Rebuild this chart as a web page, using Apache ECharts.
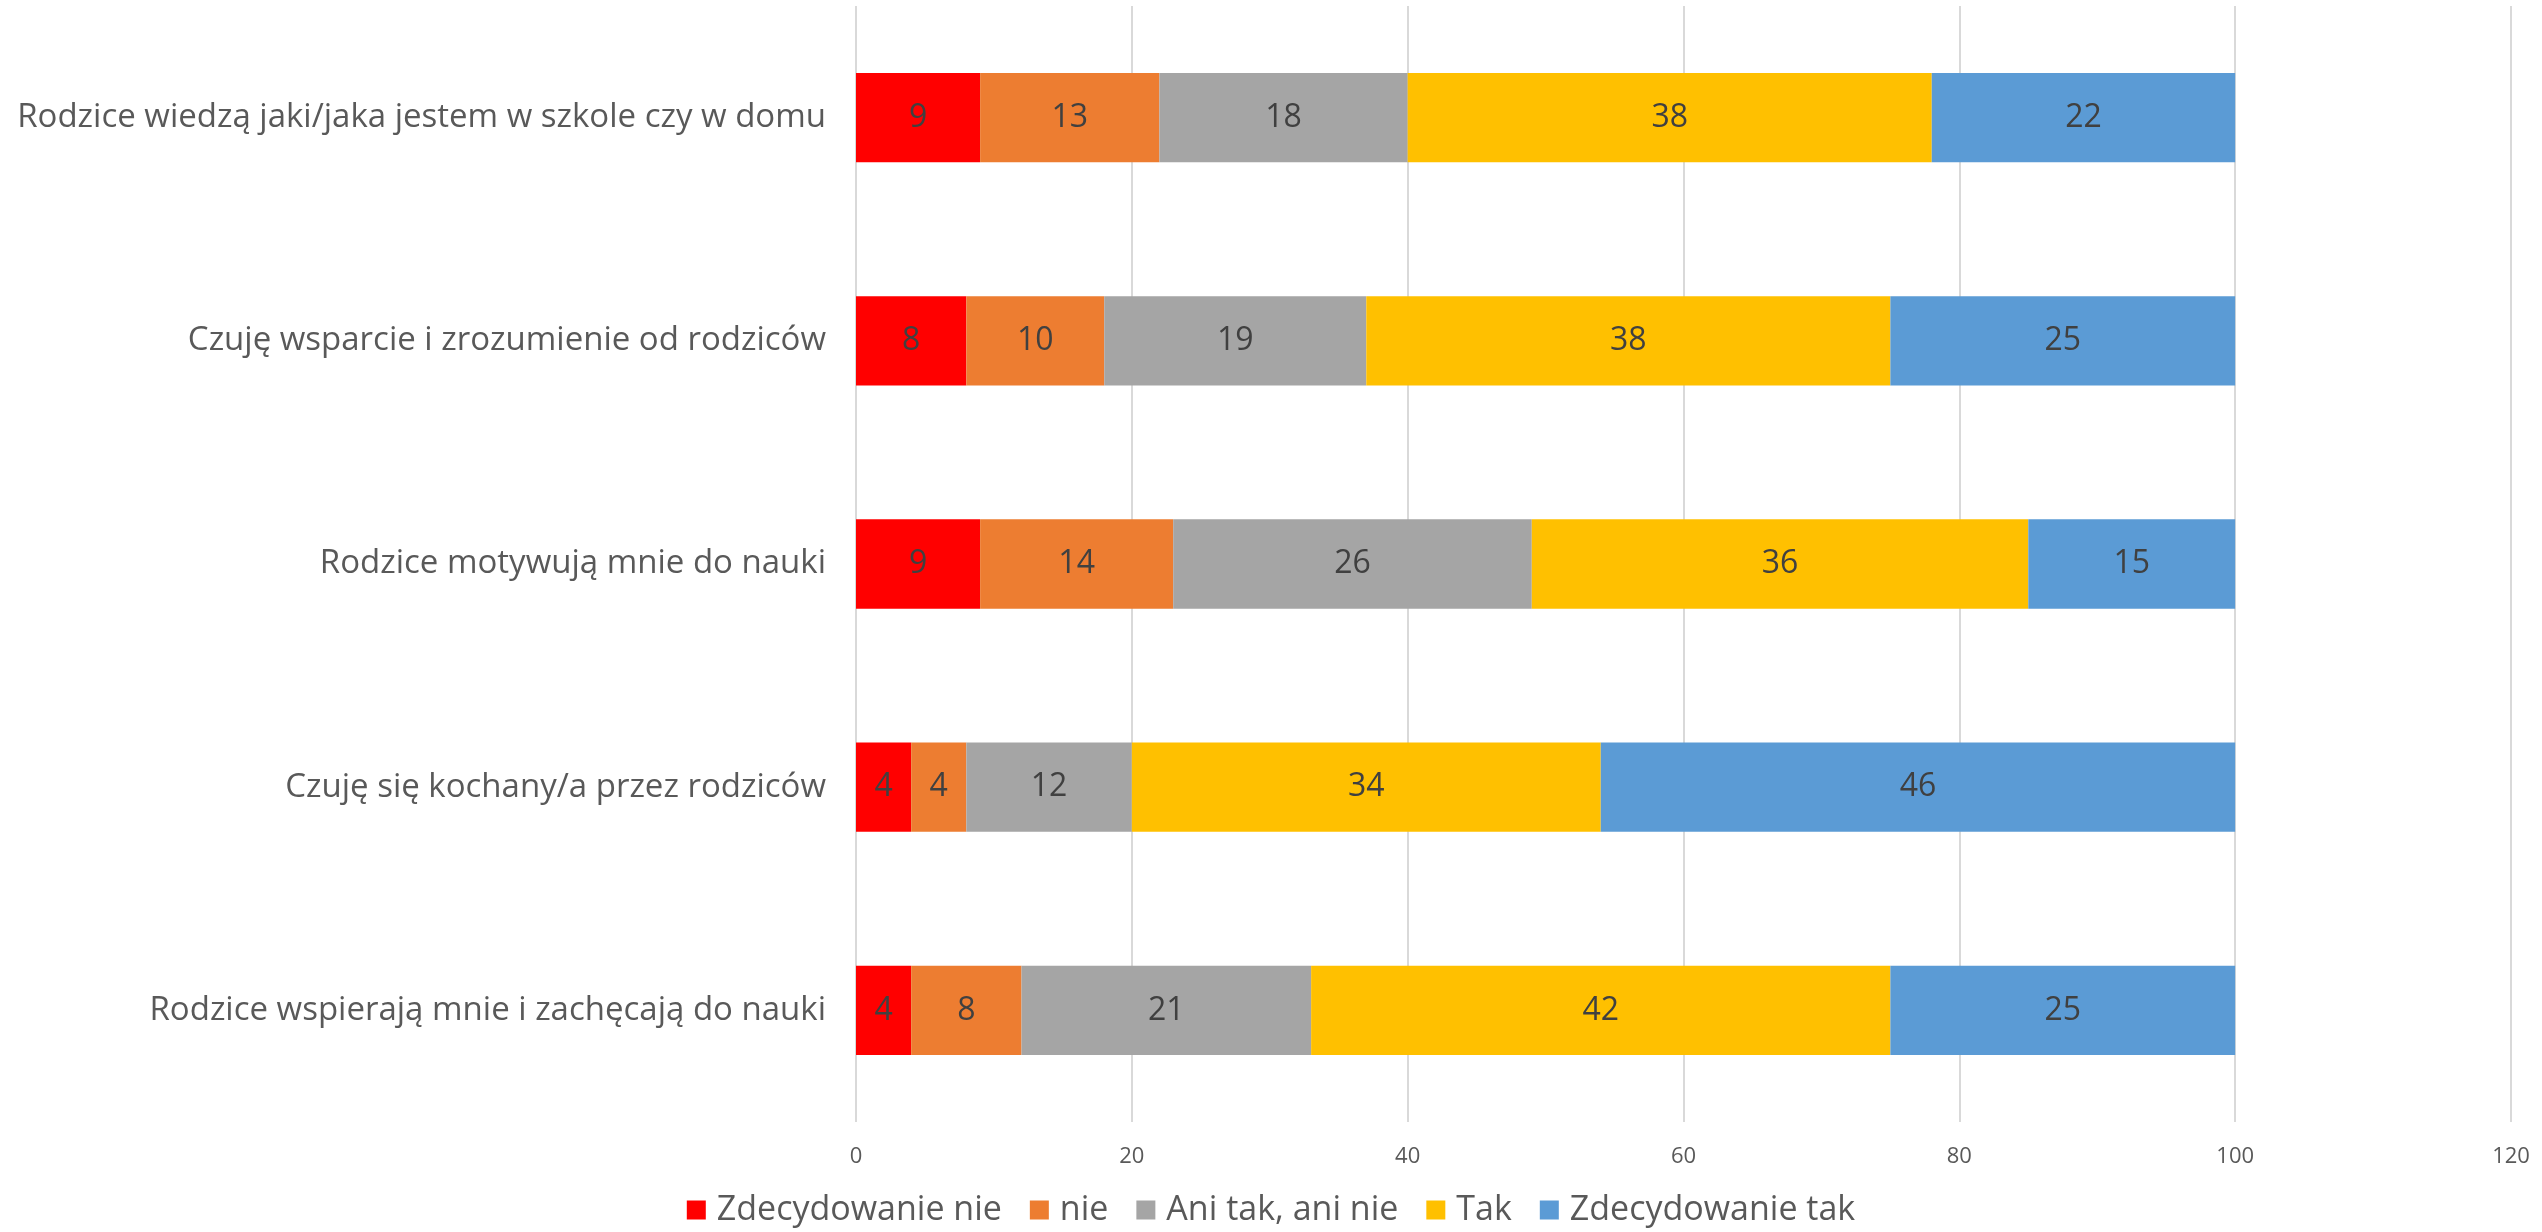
<!DOCTYPE html>
<html><head><meta charset="utf-8">
<script src="https://cdn.jsdelivr.net/npm/echarts@6/dist/echarts.min.js"></script>
<style>html,body{margin:0;padding:0;background:#fff;}#c{width:2542px;height:1232px;}</style>
</head><body><div id="c"></div>
<script>
const categories = [
  "Rodzice wiedzą jaki/jaka jestem w szkole czy w domu",
  "Czuję wsparcie i zrozumienie od rodziców",
  "Rodzice motywują mnie do nauki",
  "Czuję się kochany/a przez rodziców",
  "Rodzice wspierają mnie i zachęcają do nauki"
];
const seriesNames = ["Zdecydowanie nie", "nie", "Ani tak, ani nie", "Tak", "Zdecydowanie tak"];
const zdecydowanieNie = [9, 8, 9, 4, 4];
const nie = [13, 10, 14, 4, 8];
const aniTakAniNie = [18, 19, 26, 12, 21];
const tak = [38, 38, 36, 34, 42];
const zdecydowanieTak = [22, 25, 15, 46, 25];
const xTicks = [0, 20, 40, 60, 80, 100, 120];

const colors = ["#FF0000", "#ED7D31", "#A5A5A5", "#FFC000", "#5B9BD5"];
const values = [zdecydowanieNie, nie, aniTakAniNie, tak, zdecydowanieTak];
const FONT = "'Open Sans', sans-serif";

const chart = echarts.init(document.getElementById('c'));
chart.setOption({
  animation: false,
  color: colors,
  grid: { left: 856, right: 31, top: 6, height: 1116, containLabel: false },
  legend: {
    bottom: 0, left: 'center',
    itemWidth: 19, itemHeight: 19, itemGap: 28,
    icon: 'rect',
    textStyle: { fontFamily: FONT, fontSize: 34, color: '#595959', padding: [0, 0, 0, 6] },
    data: seriesNames
  },
  xAxis: {
    type: 'value', min: xTicks[0], max: xTicks[xTicks.length - 1], interval: 20,
    axisLine: { show: false }, axisTick: { show: false },
    splitLine: { lineStyle: { color: '#D9D9D9', width: 2 } },
    axisLabel: { fontFamily: FONT, fontSize: 22, color: '#595959', margin: 24 }
  },
  yAxis: {
    type: 'category', data: categories, inverse: true,
    axisLine: { show: false }, axisTick: { show: false },
    axisLabel: { fontFamily: FONT, fontSize: 33, color: '#595959', margin: 30 }
  },
  series: seriesNames.map((n, i) => ({
    name: n, type: 'bar', stack: 'total', data: values[i],
    barCategoryGap: '60%',
    itemStyle: { color: colors[i] },
    label: { show: true, position: 'inside', fontFamily: FONT, fontSize: 32, color: '#404040' }
  }))
});
</script></body></html>
